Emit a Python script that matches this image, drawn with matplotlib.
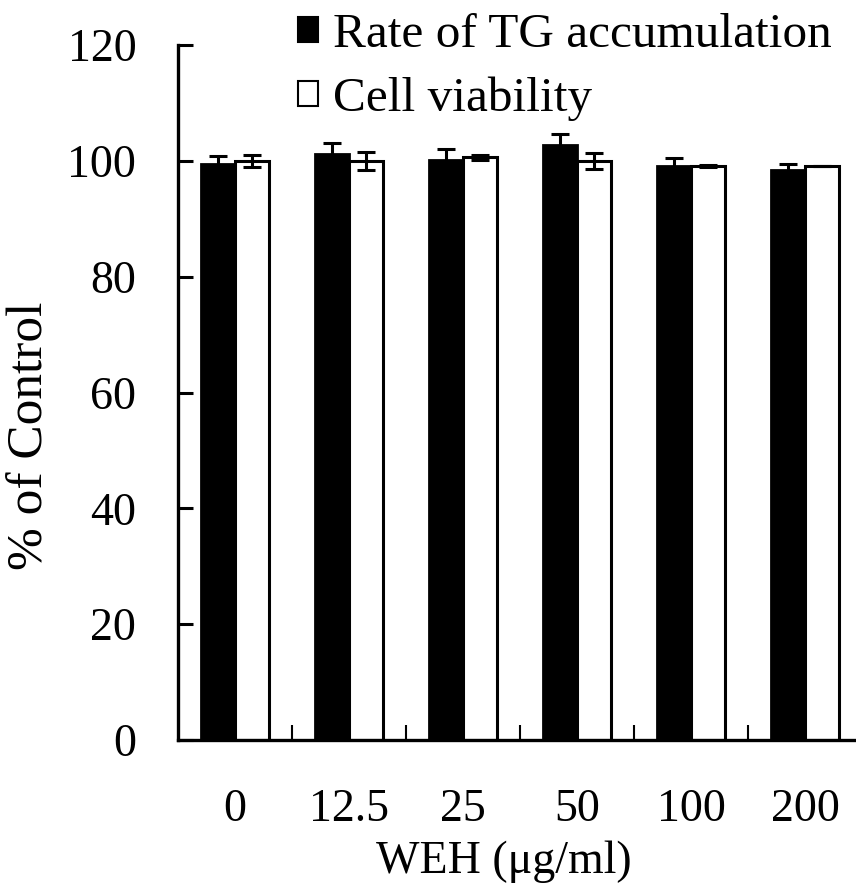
import matplotlib
matplotlib.use("Agg")
import matplotlib.pyplot as plt
import numpy as np
from matplotlib.patches import Patch

categories = ["0", "12.5", "25", "50", "100", "200"]
tg_rate = [99.5, 101.2, 100.1, 102.7, 99.1, 98.5]
tg_err = [1.4, 1.9, 2.0, 1.9, 1.4, 0.9]
viability = [100.0, 100.0, 100.6, 100.0, 99.1, 99.1]
via_err = [1.0, 1.6, 0.4, 1.4, 0.2, 0.0]
series_labels = ["Rate of TG accumulation", "Cell viability"]
yticks = [0, 20, 40, 60, 80, 100, 120]

plt.rcParams['font.family'] = ['Liberation Serif', 'DejaVu Serif']
FS = 33

fig = plt.figure(figsize=(8.56, 8.94), dpi=100)
W, H = 856, 894
ax_left, ax_right, ax_top, ax_bot = 178, 862, 45, 740
ax = fig.add_axes([ax_left / W, 1 - ax_bot / H, (ax_right - ax_left) / W, (ax_bot - ax_top) / H])

x = np.arange(len(categories))
bw = 0.3
ax.bar(x - bw / 2, tg_rate, bw, color='black', edgecolor='black', linewidth=2,
       yerr=tg_err, error_kw=dict(ecolor='black', elinewidth=2.2, capsize=6.5, capthick=2.2),
       label=series_labels[0], zorder=2)
ax.bar(x + bw / 2, viability, bw, color='white', edgecolor='black', linewidth=2.2,
       yerr=via_err, error_kw=dict(ecolor='black', elinewidth=2.2, capsize=6.5, capthick=2.2),
       label=series_labels[1], zorder=2)

ax.set_xlim(-0.5, len(categories) - 0.5)
ax.set_ylim(0, 120)
ax.set_yticks(yticks)
ax.set_yticklabels([str(t) for t in yticks], fontsize=FS)
ax.tick_params(axis='y', direction='in', length=11, width=2.2, pad=30)
ax.set_xticks(x)
ax.set_xticklabels(categories, fontsize=FS)
ax.tick_params(axis='x', which='major', length=0, pad=35)
ax.set_xticks(x[:-1] + 0.5, minor=True)
ax.tick_params(axis='x', which='minor', direction='in', length=11, width=1.5)

for s in ['top', 'right']:
    ax.spines[s].set_visible(False)
for s in ['left', 'bottom']:
    ax.spines[s].set_linewidth(2.4)

fig.text(504 / W, 1 - 862 / H, "WEH (μg/ml)", fontsize=FS, ha='center', va='center')
fig.text(30 / W, 1 - 436 / H, "% of Control", fontsize=37, ha='center', va='center', rotation=90)

handles = [Patch(facecolor='black', edgecolor='black', linewidth=1.5),
           Patch(facecolor='white', edgecolor='black', linewidth=1.5)]
fig.legend(handles, series_labels, loc='upper left', bbox_to_anchor=(298 / W, 1 - 13 / H),
           frameon=False, fontsize=35.5, handlelength=0.4, handleheight=0.4,
           handletextpad=0.3, labelspacing=0.4, borderpad=0, borderaxespad=0)

fig.savefig("out.png", dpi=100)
